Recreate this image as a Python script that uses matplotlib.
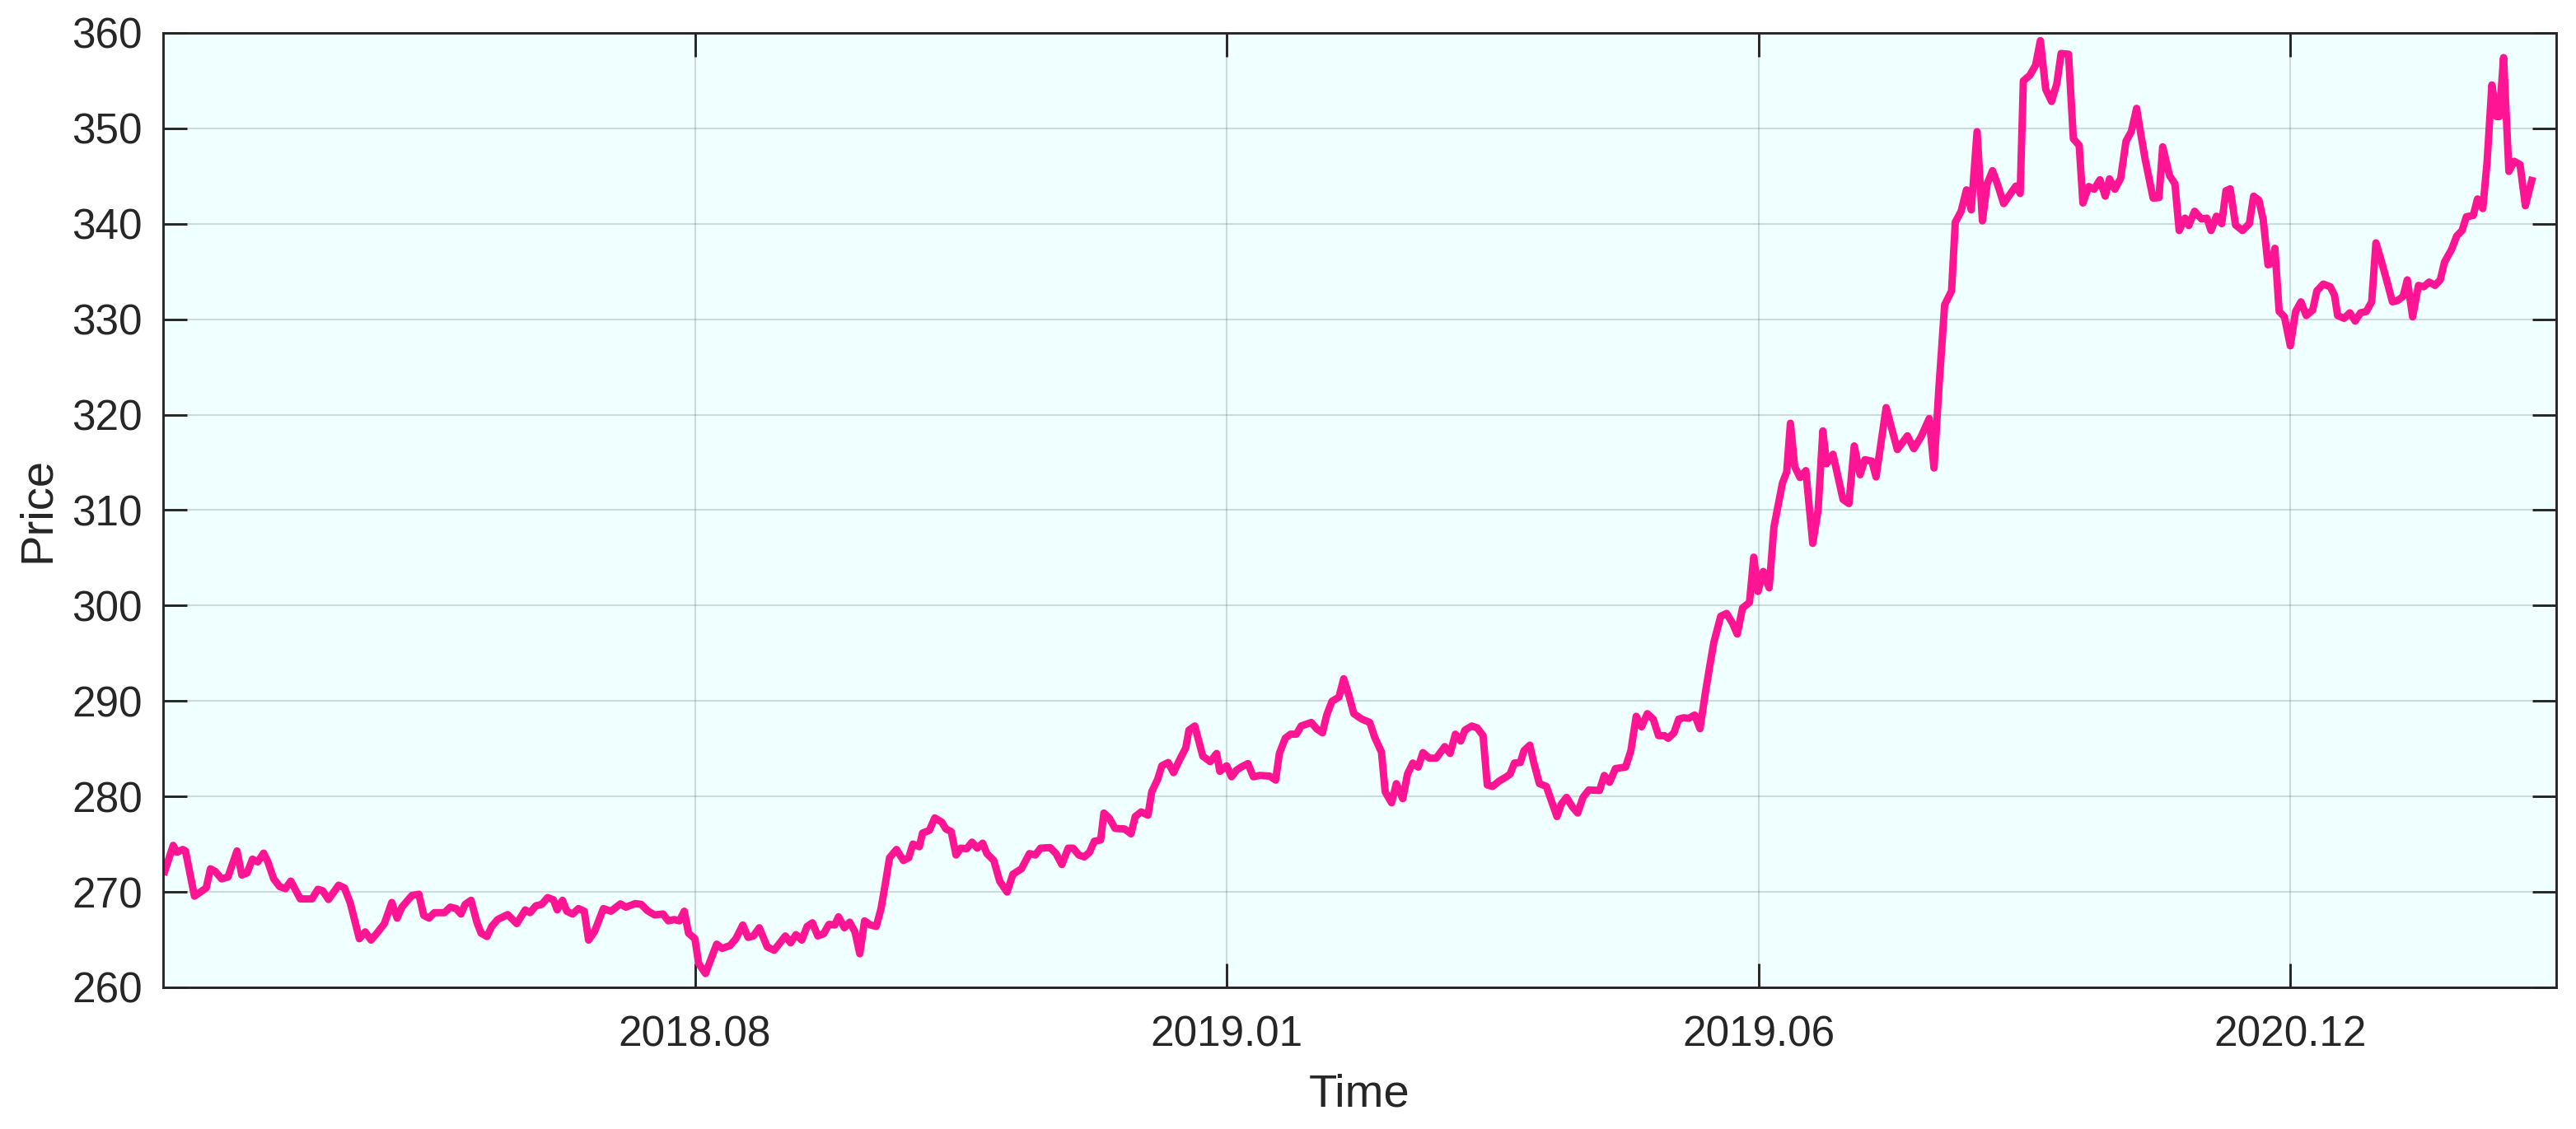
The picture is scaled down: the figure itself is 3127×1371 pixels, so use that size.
import matplotlib
matplotlib.use('Agg')
import matplotlib.pyplot as plt

# trading-day index (x) and closing price (y)
day = [0.3, 1.9, 2.6, 3.7, 4.2, 5.9, 7.0, 8.1, 8.9, 9.8, 11.0, 12.2, 13.9, 14.8, 15.8,
       16.8, 17.8, 18.9, 19.7, 20.8, 21.9, 23.0, 24.0, 25.8, 28.0, 29.1, 30.0, 31.1, 33.0,
       34.1, 35.2, 36.9, 38.0, 39.1, 40.2, 41.6, 43.0, 44.0, 44.9, 46.8, 48.1, 49.0, 50.0,
       51.0, 52.9, 54.0, 55.1, 56.0, 56.8, 57.9, 59.0, 59.8, 60.9, 61.8, 62.9, 64.8, 66.5,
       68.1, 69.0, 70.1, 71.2, 72.3, 73.4, 74.1, 75.1, 75.9, 77.0, 78.1, 79.2, 80.0, 81.1,
       82.8, 84.2, 86.0, 87.0, 88.8, 89.9, 91.1, 92.4, 94.0, 95.0, 96.1, 97.1, 98.0, 98.8,
       100.0, 100.7, 102.0, 103.1, 104.1, 105.1, 106.6, 107.7, 109.0, 110.0, 111.0, 112.1,
       113.6, 114.9, 117.0, 118.0, 119.0, 120.1, 121.1, 122.1, 123.1, 124.2, 125.2, 126.3,
       127.0, 128.1, 129.1, 130.1, 131.0, 131.9, 133.0, 134.1, 135.0, 135.8, 136.6, 137.9,
       139.2, 140.2, 141.0, 142.2, 142.8, 144.1, 145.1, 146.4, 147.2, 148.2, 149.1, 150.0,
       151.1, 152.1, 153.1, 154.1, 154.9, 156.2, 157.3, 158.7, 159.8, 161.4, 162.9, 164.0,
       165.0, 166.8, 167.9, 169.0, 170.2, 171.1, 172.2, 173.2, 174.2, 175.1, 176.3, 176.9,
       177.9, 179.0, 180.8, 182.0, 182.8, 183.9, 185.2, 185.9, 187.0, 187.8, 189.0, 190.0,
       191.1, 192.3, 192.9, 194.0, 195.5, 196.9, 198.1, 198.7, 200.0, 200.9, 201.9, 202.7,
       204.0, 205.0, 206.3, 208.1, 209.2, 209.9, 211.0, 212.0, 213.1, 214.0, 215.9, 216.9,
       218.0, 218.8, 219.8, 221.1, 222.0, 223.0, 223.9, 225.4, 226.9, 227.8, 229.1, 229.8,
       231.0, 231.9, 233.1, 234.0, 235.0, 236.0, 236.9, 238.1, 239.4, 241.0, 242.0, 243.0,
       244.0, 244.8, 246.1, 247.1, 248.2, 249.0, 250.0, 251.3, 252.6, 253.3, 254.1, 255.2,
       255.9, 257.0, 257.7, 258.8, 260.1, 261.1, 262.1, 262.9, 263.9, 265.0, 266.0, 267.0,
       268.1, 270.1, 271.0, 272.0, 273.1, 275.0, 276.0, 277.0, 278.0, 279.1, 280.2, 281.2,
       282.3, 283.0, 284.1, 285.0, 285.9, 286.9, 288.0, 289.0, 290.0, 290.8, 291.6, 292.9,
       294.0, 295.1, 296.0, 297.0, 298.3, 299.1, 299.9, 300.9, 302.0, 302.9, 304.5, 305.3,
       306.0, 306.8, 307.8, 308.9, 310.2, 311.2, 312.1, 312.8, 314.0, 315.9, 317.0, 318.0,
       319.1, 320.0, 321.3, 322.1, 324.0, 326.1, 328.0, 329.2, 330.6, 332.1, 333.0, 333.9,
       335.0, 336.3, 337.0, 338.1, 339.1, 340.0, 341.1, 342.1, 343.0, 344.0, 345.0, 346.1,
       347.4, 348.4, 349.2, 349.8, 351.0, 352.1, 353.0, 354.0, 355.1, 356.1, 356.9, 358.3,
       359.2, 360.3, 361.0, 362.1, 363.1, 364.2, 365.2, 366.0, 367.0, 368.1, 369.1, 370.1,
       371.1, 371.9, 372.7, 374.2, 375.3, 376.0, 377.3, 378.3, 379.1, 380.2, 380.9, 382.0,
       383.3, 384.3, 385.1, 386.1, 387.1, 387.9, 388.7, 389.7, 391.0, 392.3, 393.1, 394.1,
       394.9, 395.8, 396.5, 397.1, 397.9, 398.9, 400.0, 401.0, 402.0, 403.0, 404.2, 405.0,
       406.2, 407.5, 408.3, 408.9, 410.1, 411.2, 412.2, 413.2, 414.3, 415.3, 416.1, 417.1,
       418.1, 419.2, 420.2, 421.2, 422.0, 423.0, 424.1, 425.1, 426.1, 427.2, 428.2, 429.0,
       430.3, 431.3, 432.3, 433.1, 434.4, 435.2, 436.2, 437.0, 437.9, 438.8, 439.3, 440.1,
       441.1, 442.1, 443.2, 444.2, 445.4]

price = [272.14, 274.87, 274.15, 274.44, 274.29, 269.55, 269.98, 270.41, 272.42, 272.14,
         271.36, 271.56, 274.29, 271.76, 271.99, 273.43, 273.14, 274.06, 273.14, 271.36,
         270.56, 270.33, 271.13, 269.26, 269.26, 270.27, 270.12, 269.20, 270.70, 270.41,
         268.83, 265.09, 265.81, 264.95, 265.67, 266.67, 268.89, 267.25, 268.40, 269.63,
         269.75, 267.54, 267.25, 267.82, 267.82, 268.40, 268.25, 267.68, 268.69, 269.12,
         266.82, 265.67, 265.32, 266.38, 267.10, 267.62, 266.67, 268.11, 267.82, 268.54,
         268.69, 269.40, 269.17, 268.11, 269.12, 267.97, 267.68, 268.25, 267.97, 264.95,
         265.81, 268.25, 267.97, 268.74, 268.40, 268.77, 268.69, 268.02, 267.59, 267.68,
         266.96, 267.10, 266.96, 267.97, 265.67, 265.09, 262.50, 261.44, 263.08, 264.52,
         264.08, 264.37, 265.09, 266.53, 265.23, 265.38, 266.24, 264.23, 263.88, 265.38,
         264.66, 265.52, 264.95, 266.38, 266.76, 265.38, 265.61, 266.59, 266.53, 267.39,
         266.24, 266.82, 265.81, 263.51, 266.96, 266.53, 266.38, 268.25, 270.84, 273.57,
         274.44, 273.29, 273.57, 275.01, 274.73, 276.16, 276.45, 277.75, 277.31, 276.59,
         276.31, 273.86, 274.58, 274.52, 275.21, 274.58, 275.10, 274.01, 273.29, 271.13,
         269.98, 271.85, 272.42, 274.01, 273.86, 274.58, 274.64, 274.01, 272.86, 274.58,
         274.58, 273.86, 273.66, 274.15, 275.30, 275.44, 278.26, 277.74, 276.65, 276.59,
         276.08, 277.89, 278.38, 278.03, 280.48, 281.77, 283.21, 283.55, 282.49, 283.79,
         285.08, 286.95, 287.38, 284.22, 283.64, 284.50, 282.63, 283.21, 282.06, 282.78,
         283.07, 283.44, 282.06, 282.20, 282.12, 281.71, 284.50, 286.09, 286.52, 286.52,
         287.38, 287.75, 287.09, 286.66, 288.53, 289.97, 290.40, 292.33, 290.54, 288.67,
         288.10, 287.75, 286.23, 284.65, 280.48, 279.33, 281.34, 279.76, 282.35, 283.50,
         283.07, 284.59, 284.01, 284.01, 285.22, 284.50, 286.52, 285.80, 286.95, 287.38,
         287.18, 286.37, 281.20, 281.05, 281.63, 282.06, 282.35, 283.50, 283.55, 284.79,
         285.37, 283.64, 281.34, 281.05, 279.47, 277.89, 279.18, 279.90, 278.90, 278.26,
         279.90, 280.68, 280.62, 282.20, 281.48, 282.92, 283.07, 284.79, 288.39, 287.29,
         288.67, 288.10, 286.37, 286.37, 286.09, 286.66, 288.10, 288.24, 288.19, 288.53,
         287.09, 290.83, 293.56, 296.15, 298.88, 299.17, 298.16, 297.01, 299.75, 300.32,
         305.07, 301.47, 303.57, 301.85, 308.23, 312.83, 313.98, 319.10, 314.56, 313.41,
         314.13, 306.51, 309.96, 318.30, 314.85, 315.85, 311.11, 310.68, 316.72, 313.70,
         315.28, 315.13, 313.47, 320.74, 316.34, 317.78, 316.43, 317.72, 319.59, 314.41,
         322.61, 331.50, 332.96, 340.16, 341.31, 343.55, 341.45, 349.65, 340.30, 344.18,
         345.56, 344.04, 342.11, 343.17, 343.95, 343.17, 354.97, 355.54, 356.61, 359.19,
         354.10, 352.81, 354.68, 357.84, 357.76, 348.90, 348.21, 342.17, 343.90, 343.61,
         344.61, 342.89, 344.70, 343.61, 344.76, 348.64, 349.65, 352.09, 349.36, 346.77,
         342.69, 342.74, 348.06, 345.04, 344.18, 339.29, 340.59, 339.81, 341.31, 340.50,
         340.59, 339.29, 340.79, 340.01, 343.46, 343.66, 339.87, 339.29, 340.01, 342.89,
         342.46, 340.44, 335.70, 335.85, 337.43, 330.81, 330.24, 327.21, 330.81, 331.82,
         330.38, 330.95, 332.97, 333.68, 333.40, 332.53, 330.38, 330.09, 330.67, 329.80,
         330.67, 330.81, 331.82, 338.00, 336.13, 334.12, 331.82, 331.96, 332.39, 334.12,
         330.24, 333.54, 333.40, 333.89, 333.54, 334.12, 335.99, 337.28, 338.72, 339.29,
         340.73, 340.87, 342.60, 341.59, 346.48, 354.54, 351.23, 351.23, 357.41, 345.48,
         346.54, 346.20, 341.88, 344.53]

tick_pos = [100, 200, 300, 400]
tick_labels = ['2018.08', '2019.01', '2019.06', '2020.12']

plt.rcParams['font.family'] = ['Liberation Sans', 'DejaVu Sans']
dark = '#262626'

fig = plt.figure(figsize=(3128 / 300, 1371 / 300), dpi=300)
ax = fig.add_axes([0.0633, 0.1255, 0.9287, 0.8454])
ax.set_facecolor('#F0FFFF')

# price line
ax.plot(day, price, color='#FF1493', linewidth=2.15)

ax.set_xlim(0, 450)
ax.set_ylim(260, 360)
ax.set_xticks(tick_pos)
ax.set_xticklabels(tick_labels)
ax.set_yticks(range(260, 361, 10))

# MATLAB-like box with inward ticks and faint grid
ax.grid(True, color=dark, alpha=0.17, linewidth=0.5)
ax.tick_params(direction='in', top=True, right=True, length=7, width=0.7,
               labelsize=12.3, colors=dark, pad=8)
ax.tick_params(axis='y', pad=6)
for s in ax.spines.values():
    s.set_color(dark)
    s.set_linewidth(0.7)

ax.set_xlabel('Time', fontsize=13.5, color=dark)
ax.set_ylabel('Price', fontsize=13.5, color=dark)
ax.xaxis.set_label_coords(0.5, -0.09)
ax.yaxis.set_label_coords(-0.0434, 0.5)

fig.savefig('out.png', dpi=300)
